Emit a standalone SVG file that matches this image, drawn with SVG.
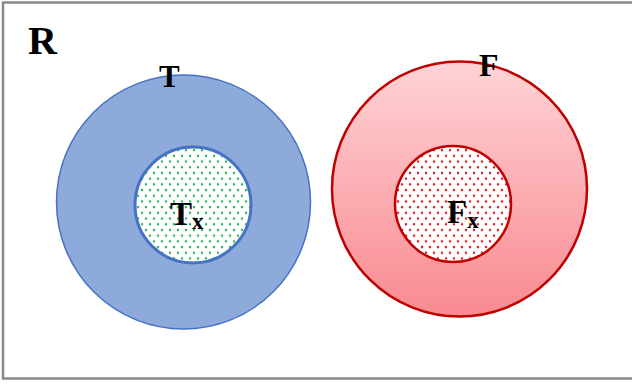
<svg xmlns="http://www.w3.org/2000/svg" width="632" height="384" viewBox="0 0 632 384">
<style>
.lbl{font-family:"Liberation Serif","DejaVu Serif",serif;font-weight:bold;fill:#000}
</style>
<defs>
<linearGradient id="redg" x1="0" y1="0" x2="0" y2="1">
<stop offset="0" stop-color="#ffd3d6"/>
<stop offset="1" stop-color="#f88a90"/>
</linearGradient>
<pattern id="gdots" width="8" height="11.4" patternUnits="userSpaceOnUse">
<rect width="8" height="11.4" fill="#fff"/>
<circle cx="2" cy="2" r="1.25" fill="#2fb560"/>
<circle cx="6" cy="7.7" r="1.25" fill="#2fb560"/>
</pattern>
<pattern id="rdots" width="8" height="11.4" patternUnits="userSpaceOnUse">
<rect width="8" height="11.4" fill="#fff"/>
<circle cx="2" cy="2" r="1.25" fill="#dc1e24"/>
<circle cx="6" cy="7.7" r="1.25" fill="#dc1e24"/>
</pattern>
</defs>
<rect x="0" y="0" width="632" height="384" fill="#fff"/>
<rect x="3" y="2.5" width="640" height="376" fill="none" stroke="#8a8a8a" stroke-width="2.5"/>
<g id="R"><text class="lbl" x="28" y="54" font-size="40">R</text></g>
<g id="T">
<circle cx="183.5" cy="202" r="127" fill="#8eaadb" stroke="#4472c4" stroke-width="1.5"/>
<text class="lbl" x="159" y="87" font-size="31">T</text>
</g>
<g id="Tx">
<circle cx="193" cy="205" r="58" fill="url(#gdots)" stroke="#4472c4" stroke-width="3"/>
<text class="lbl" x="170" y="225" font-size="33">T<tspan font-size="23" dy="4">x</tspan></text>
</g>
<g id="F">
<circle cx="459.5" cy="189" r="127.5" fill="url(#redg)" stroke="#c00000" stroke-width="2.5"/>
<text class="lbl" x="479" y="76" font-size="32">F</text>
</g>
<g id="Fx">
<circle cx="453" cy="204" r="58" fill="url(#rdots)" stroke="#c00000" stroke-width="2.5"/>
<text class="lbl" x="447" y="223" font-size="33">F<tspan font-size="23" dy="5">x</tspan></text>
</g>
<g id="connectors"/>
</svg>
